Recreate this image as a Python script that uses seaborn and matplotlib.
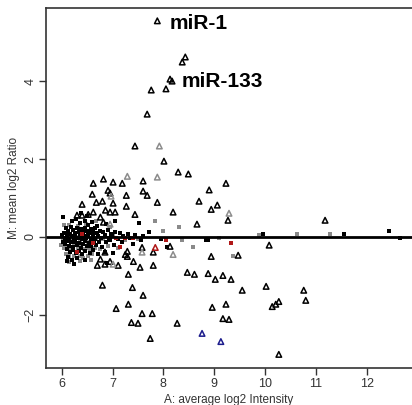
import pandas as pd
import matplotlib
matplotlib.use("Agg")
import matplotlib.pyplot as plt
import seaborn as sns

# ---------- triangles (differentially expressed) ----------
tri_black_A = [7.88, 8.37, 8.13, 8.17, 7.76, 8.05, 7.68, 7.44, 8.01, 8.29, 8.49,
               6.62, 6.82, 7.01, 7.19, 7.60, 6.60, 6.91, 6.95, 7.27, 7.60, 7.68,
               6.40, 6.68, 6.80, 7.88, 8.19, 6.62, 6.52, 6.40, 6.76, 6.95, 7.05,
               7.44, 6.82, 8.66, 8.70, 8.90, 9.23, 8.94, 9.06, 9.27, 11.18, 10.08,
               8.94, 9.47, 8.88, 9.02, 9.17, 9.33, 9.55, 10.02, 10.76, 10.80, 8.96,
               9.23, 10.14, 10.21, 10.27, 9.17, 9.29, 10.27, 6.80, 7.39, 7.60, 7.07,
               7.31, 7.58, 7.78, 7.37, 7.50, 8.27, 7.74, 6.76, 6.95, 6.70, 6.85,
               7.11, 7.54, 7.80, 7.31, 7.41, 7.29, 7.29, 7.80, 8.13, 8.47, 8.61,
               6.85, 7.25, 7.58, 6.86, 7.01, 7.27, 6.30, 8.43]
tri_black_M = [5.56, 4.50, 4.06, 4.01, 3.78, 3.81, 3.16, 2.34, 1.95, 1.67, 1.62,
               1.38, 1.49, 1.41, 1.38, 1.44, 1.10, 1.20, 1.13, 1.07, 1.18, 1.07,
               0.84, 0.89, 0.92, 0.89, 0.64, 0.64, 0.58, 0.56, 0.51, 0.64, 0.64,
               0.58, 0.38, 0.33, 0.92, 1.21, 1.38, 0.71, 0.82, 0.43, 0.43, -0.21,
               -0.50, -0.47, -0.94, -1.09, -0.99, -1.09, -1.37, -1.27, -1.37, -1.63, -1.81,
               -1.73, -1.79, -1.73, -1.66, -2.10, -2.12, -3.02, -1.24, -1.30, -1.50, -1.84,
               -1.73, -1.97, -1.97, -2.20, -2.22, -2.22, -2.61, -0.57, -0.63, -0.73, -0.70,
               -0.73, -0.78, -0.73, -0.96, -0.63, -0.50, -0.37, -0.39, -0.24, -0.91, -0.96,
               -0.39, -0.45, -0.27, 0.69, 0.87, 0.79, 0.56, 4.63]
tri_gray_A = [7.92, 7.29, 7.88, 6.97, 6.95, 9.29, 7.01, 7.58, 8.19]
tri_gray_M = [2.34, 1.56, 1.54, 1.05, 0.33, 0.61, -0.70, -0.39, -0.45]
tri_red_A = [7.84]
tri_red_M = [-0.27]
tri_blue_A = [9.13, 8.76]
tri_blue_M = [-2.69, -2.48]

# ---------- small squares (not significant) ----------
sq_black_A = [6.03, 6.20, 6.28, 6.35, 6.45, 6.52, 6.60, 6.70, 6.88, 7.05, 7.52, 6.50, 6.38,
              6.08, 6.12, 6.18, 6.22, 6.26, 6.30, 6.33, 6.38, 6.42, 6.46, 6.50, 6.55,
              6.58, 6.62, 6.66, 6.70, 6.76, 6.82, 6.90, 6.96, 7.05, 7.15, 7.30, 7.45, 7.72,
              6.00, 6.04, 6.06, 6.10, 6.14, 6.16, 6.20, 6.24, 6.27, 6.31, 6.35, 6.39,
              6.43, 6.47, 6.52, 6.57, 6.61, 6.65, 6.72, 6.78, 6.85, 6.92, 6.98, 7.10,
              7.20, 7.35, 7.60, 7.95,
              6.02, 6.07, 6.11, 6.15, 6.19, 6.23, 6.26, 6.30, 6.34, 6.37, 6.41, 6.45,
              6.49, 6.53, 6.58, 6.63, 6.68, 6.74, 6.80, 6.87, 6.94, 7.02, 7.18, 7.40,
              7.55, 8.07, 8.84, 8.88,
              6.10, 6.16, 6.22, 6.28, 6.33, 6.40, 6.46, 6.55, 6.62, 6.72, 6.85, 7.01,
              6.12, 6.20, 6.30, 6.45, 6.89, 6.25, 6.10,
              9.96, 11.55, 12.43, 12.65]
sq_black_M = [0.51, 0.40, 0.45, 0.35, 0.42, 0.30, 0.38, 0.28, 0.33, 0.40, 0.35, 0.55, 0.62,
              0.22, 0.15, 0.25, 0.18, 0.10, 0.22, 0.14, 0.20, 0.12, 0.24, 0.16, 0.10,
              0.20, 0.13, 0.22, 0.10, 0.16, 0.12, 0.18, 0.08, 0.12, 0.10, 0.08, 0.06, 0.12,
              0.05, 0.10, -0.02, 0.05, -0.05, 0.08, 0.02, -0.04, 0.05, -0.02, 0.06, -0.06,
              0.03, -0.03, 0.05, -0.04, 0.03, -0.05, 0.02, -0.03, 0.04, -0.02, 0.03, -0.04,
              0.02, -0.03, 0.02, -0.04,
              -0.12, -0.18, -0.10, -0.22, -0.14, -0.25, -0.12, -0.20, -0.15, -0.28, -0.18, -0.10,
              -0.24, -0.15, -0.22, -0.12, -0.20, -0.14, -0.25, -0.12, -0.09, -0.20, -0.12, -0.18,
              -0.09, -0.27, -0.09, -0.09,
              -0.32, -0.38, -0.33, -0.42, -0.35, -0.45, -0.36, -0.40, -0.33, -0.45, -0.38, -0.42,
              -0.52, -0.58, -0.55, -0.60, -0.68, -0.70, -0.62,
              0.07, 0.07, 0.15, -0.03]
sq_gray_A = [6.05, 6.15, 6.32, 6.48, 6.68, 6.95, 7.84, 7.99,
             6.02, 6.13, 6.21, 6.29, 6.36, 6.44, 6.51, 6.60, 6.68, 6.82, 7.00, 7.25, 7.50,
             5.98, 6.05, 6.12, 6.18, 6.25, 6.32, 6.38, 6.43, 6.50, 6.56, 6.65, 6.75, 6.90, 7.10,
             6.08, 6.14, 6.24, 6.35, 6.42, 6.52, 6.60, 6.15, 6.35, 6.58,
             8.37, 8.58, 9.09, 9.37, 9.88, 10.63, 11.28, 8.30]
sq_gray_M = [0.30, 0.32, 0.28, 0.33, 0.42, 0.25, 0.40, 0.15,
             -0.05, 0.02, -0.08, 0.00, -0.10, -0.06, -0.12, -0.08, -0.02, -0.06, 0.05, -0.08, -0.05,
             -0.20, -0.28, -0.25, -0.30, -0.20, -0.30, -0.22, -0.32, -0.28, -0.32, -0.28, -0.30, -0.22, -0.28,
             -0.45, -0.48, -0.48, -0.50, -0.55, -0.50, -0.45, -0.65, -0.62, -0.58,
             -0.09, -0.27, -0.03, -0.50, 0.04, 0.07, 0.07, 0.25]
sq_red_A = [6.40, 6.62, 7.07, 7.14, 7.24, 7.40, 8.05, 9.33, 6.30]
sq_red_M = [0.08, -0.15, -0.02, -0.25, -0.03, -0.02, -0.09, -0.16, -0.38]

labels = [("miR-1", 8.12, 5.50), ("miR-133", 8.35, 3.99)]

sns.set_style("white")
plt.rcParams['font.family'] = ['Liberation Sans', 'DejaVu Sans']

fig = plt.figure(figsize=(4.12, 4.05), dpi=100)
ax = fig.add_axes([46 / 412, 37 / 405, 366 / 412, 360 / 405])

# squares first, triangles on top
for xs, ys, col in [(sq_gray_A, sq_gray_M, '#8a8a8a'), (sq_black_A, sq_black_M, 'black'),
                    (sq_red_A, sq_red_M, '#b01818')]:
    sns.scatterplot(x=xs, y=ys, ax=ax, marker='s', s=5, color=col, linewidth=0)

ax.axhline(0, color='black', lw=2, zorder=1.5)

for xs, ys, col in [(tri_black_A, tri_black_M, 'black'), (tri_gray_A, tri_gray_M, '#8c8c8c'),
                    (tri_red_A, tri_red_M, '#b01818'), (tri_blue_A, tri_blue_M, '#1c1c8c')]:
    sns.scatterplot(x=xs, y=ys, ax=ax, marker='^', s=16, facecolor='none',
                    edgecolor=col, linewidth=1.1)

for txt, x, y in labels:
    ax.text(x, y, txt, fontsize=15, fontweight='bold', va='center', ha='left', color='black')

ax.set_xlim(5.69, 12.89)
ax.set_ylim(-3.37, 5.89)
ax.set_xticks([6, 7, 8, 9, 10, 11, 12])
ax.set_yticks([-2, 0, 2, 4])
ax.tick_params(axis='both', direction='out', length=5, width=1, color='#333333',
               labelsize=9, labelcolor='#333333', bottom=True, left=True, pad=2)
for lab in ax.get_yticklabels():
    lab.set_rotation(90)
    lab.set_va('center')
ax.set_xlabel('A: average log2 Intensity', fontsize=8.5, color='#333333', labelpad=3)
ax.set_ylabel('M: mean log2 Ratio', fontsize=8.5, color='#333333', labelpad=3)

for side in ['left', 'top', 'bottom']:
    ax.spines[side].set_color('#333333')
    ax.spines[side].set_linewidth(1.2)
ax.spines['right'].set_visible(False)

fig.savefig('out.png', dpi=100)
